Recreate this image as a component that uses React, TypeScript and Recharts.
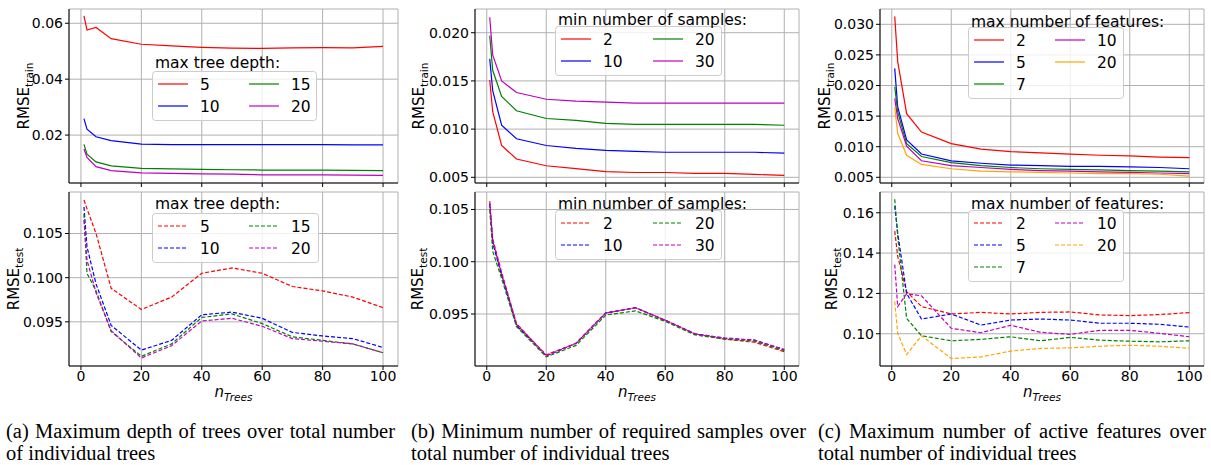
import { LineChart, Line, XAxis, YAxis, CartesianGrid } from 'recharts';

const nTrees = [1, 2, 5, 10, 20, 30, 40, 50, 60, 70, 80, 90, 100];
const xTicks = [0, 20, 40, 60, 80, 100];

// (a) max tree depth
const depthLabels = ['5', '10', '15', '20'];
const depthTrain = [
  [0.0626, 0.0576, 0.0585, 0.0545, 0.0525, 0.0519, 0.0514, 0.0511, 0.051, 0.0512, 0.0513, 0.0512, 0.0517],
  [0.0259, 0.0221, 0.0194, 0.018, 0.0168, 0.0166, 0.0166, 0.0166, 0.0166, 0.0166, 0.0166, 0.0165, 0.0165],
  [0.0167, 0.0132, 0.0104, 0.009, 0.0081, 0.0079, 0.0077, 0.0076, 0.0075, 0.0075, 0.0075, 0.0074, 0.0073],
  [0.015, 0.012, 0.0087, 0.0073, 0.0065, 0.0063, 0.0061, 0.006, 0.0058, 0.0058, 0.0058, 0.0057, 0.0056],
];
const depthTest = [
  [0.1088, 0.1078, 0.105, 0.0988, 0.0964, 0.0978, 0.1005, 0.1011, 0.1005, 0.099, 0.0985, 0.0978, 0.0966],
  [0.108, 0.1035, 0.0993, 0.0946, 0.0918, 0.0929, 0.0958, 0.0961, 0.0954, 0.0938, 0.0934, 0.0931, 0.0921],
  [0.1072, 0.1005, 0.0985, 0.0939, 0.0911, 0.0925, 0.0955, 0.0959, 0.0948, 0.0933, 0.0929, 0.0925, 0.0915],
  [0.1065, 0.102, 0.0983, 0.094, 0.0909, 0.0923, 0.0951, 0.0954, 0.0945, 0.0931, 0.0928, 0.0925, 0.0915],
];

// (b) min number of samples
const sampleLabels = ['2', '10', '20', '30'];
const sampleTrain = [
  [0.0151, 0.0118, 0.0083, 0.0069, 0.0062, 0.0059, 0.0056, 0.0055, 0.0055, 0.0054, 0.0054, 0.0053, 0.0052],
  [0.0173, 0.014, 0.0104, 0.009, 0.0083, 0.008, 0.0078, 0.0077, 0.0076, 0.0076, 0.0076, 0.0076, 0.0075],
  [0.0197, 0.0161, 0.0134, 0.0119, 0.0111, 0.0109, 0.0106, 0.0105, 0.0105, 0.0105, 0.0105, 0.0105, 0.0104],
  [0.0216, 0.0177, 0.015, 0.0138, 0.0131, 0.0129, 0.0128, 0.0127, 0.0127, 0.0127, 0.0127, 0.0127, 0.0127],
];
const sampleTest = [
  [0.1058, 0.102, 0.0988, 0.094, 0.0911, 0.0922, 0.0951, 0.0956, 0.0944, 0.0931, 0.0926, 0.0923, 0.0914],
  [0.1055, 0.1018, 0.0987, 0.0939, 0.091, 0.0922, 0.0951, 0.0956, 0.0944, 0.0931, 0.0927, 0.0925, 0.0916],
  [0.105, 0.101, 0.0984, 0.0938, 0.0909, 0.092, 0.0949, 0.0953, 0.0943, 0.093, 0.0926, 0.0924, 0.0915],
  [0.1056, 0.1022, 0.099, 0.0941, 0.091, 0.0922, 0.0951, 0.0956, 0.0944, 0.0931, 0.0927, 0.0925, 0.0916],
];

// (c) max number of features
const featureLabels = ['2', '5', '7', '10', '20'];
const featureTrain = [
  [0.0313, 0.0239, 0.0154, 0.0124, 0.0105, 0.0096, 0.0092, 0.009, 0.0088, 0.0086, 0.0085, 0.0083, 0.0082],
  [0.0228, 0.0165, 0.0111, 0.0088, 0.0077, 0.0073, 0.007, 0.0069, 0.0068, 0.0068, 0.0067, 0.0066, 0.0064],
  [0.0198, 0.0157, 0.0105, 0.0084, 0.0074, 0.0069, 0.0066, 0.0064, 0.0063, 0.0062, 0.0061, 0.006, 0.0059],
  [0.0179, 0.0146, 0.0101, 0.0077, 0.0069, 0.0066, 0.0063, 0.0061, 0.006, 0.0059, 0.0058, 0.0057, 0.0056],
  [0.0164, 0.0122, 0.0086, 0.0071, 0.0064, 0.006, 0.0059, 0.0058, 0.0057, 0.0056, 0.0056, 0.0055, 0.0052],
];
const featureTest = [
  [0.1509, 0.1384, 0.1209, 0.1135, 0.1098, 0.1106, 0.1098, 0.1106, 0.1108, 0.1093, 0.109, 0.1095, 0.1105],
  [0.1633, 0.15, 0.12, 0.1073, 0.1098, 0.1043, 0.1068, 0.1073, 0.1068, 0.1052, 0.1052, 0.1047, 0.1033],
  [0.1667, 0.1484, 0.1076, 0.099, 0.0965, 0.0972, 0.0985, 0.0965, 0.0982, 0.0968, 0.0963, 0.096, 0.0965],
  [0.1343, 0.1135, 0.1198, 0.1188, 0.1027, 0.1005, 0.1042, 0.1007, 0.0997, 0.1017, 0.1017, 0.1002, 0.0985],
  [0.116, 0.1002, 0.0897, 0.099, 0.0877, 0.0885, 0.0914, 0.0927, 0.093, 0.0938, 0.0943, 0.0938, 0.0928],
];

const colors4 = ['#ff0000', '#0000ff', '#008000', '#bf00bf'];
const colors5 = ['#ff0000', '#0000ff', '#008000', '#bf00bf', '#ffa500'];

const SANS = 'DejaVu Sans, sans-serif';
const SERIF = 'Liberation Serif, Times New Roman, serif';
const X_DOMAIN: [number, number] = [-3.95, 104.95];

type Box = { x0: number; x1: number; y0: number; y1: number };

interface PanelProps {
  left: number;
  top: number;
  width: number;
  height: number;
  plot: Box;
  values: number[][];
  colors: string[];
  domain: [number, number];
  yTicks: number[];
  digits: number;
  dashed: boolean;
  showX: boolean;
}

const Panel = ({ left, top, width, height, plot, values, colors, domain, yTicks, digits, dashed, showX }: PanelProps) => {
  const rows = nTrees.map((n, i) => {
    const row: Record<string, number> = { n };
    values.forEach((s, k) => {
      row['s' + k] = s[i];
    });
    return row;
  });
  const tickStyle = { fill: '#000', fontSize: 14, fontFamily: SANS };
  return (
    <div style={{ position: 'absolute', left, top }}>
      <LineChart
        width={width}
        height={height}
        data={rows}
        margin={{ top: plot.y0 - top, right: left + width - plot.x1, left: 0, bottom: 0 }}
      >
        <CartesianGrid stroke="#b0b0b0" strokeWidth={1} />
        <XAxis
          dataKey="n"
          type="number"
          domain={X_DOMAIN}
          ticks={xTicks}
          allowDataOverflow
          height={top + height - plot.y1}
          tickSize={4}
          tickMargin={1}
          tick={tickStyle}
          tickFormatter={(v: number) => (showX ? String(v) : '')}
          stroke="#000"
          axisLine={{ stroke: '#000', strokeWidth: 1 }}
          tickLine={{ stroke: '#000' }}
        />
        <XAxis xAxisId="top" orientation="top" type="number" domain={X_DOMAIN} height={0} tick={false} tickLine={false} axisLine={{ stroke: '#000', strokeWidth: 1 }} />
        <YAxis
          type="number"
          domain={domain}
          ticks={yTicks}
          allowDataOverflow
          width={plot.x0 - left}
          tickSize={4}
          tickMargin={2}
          tick={tickStyle}
          tickFormatter={(v: number) => v.toFixed(digits)}
          axisLine={{ stroke: '#000', strokeWidth: 1 }}
          tickLine={{ stroke: '#000' }}
        />
        <YAxis yAxisId="right" orientation="right" type="number" domain={domain} width={0} tick={false} tickLine={false} axisLine={{ stroke: '#000', strokeWidth: 1 }} />
        {values.map((_, k) => (
          <Line
            key={k}
            type="linear"
            dataKey={'s' + k}
            stroke={colors[k]}
            strokeWidth={1.2}
            strokeDasharray={dashed ? '4 2' : undefined}
            dot={false}
            activeDot={false}
            isAnimationActive={false}
          />
        ))}
      </LineChart>
    </div>
  );
};

type LegendSpec = { x: number; y: number; w: number; rows: number; col2: number; titleY: number; title: string };

const LegendBox = ({ spec, labels, colors, dashed }: { spec: LegendSpec; labels: string[]; colors: string[]; dashed: boolean }) => {
  const h = spec.rows * 22 + 5;
  return (
    <g fontFamily={SANS} fontSize={15.5} fill="#000">
      <rect x={spec.x + 0.5} y={spec.y + 0.5} width={spec.w} height={h} rx={3} fill="rgba(255,255,255,0.8)" stroke="#cccccc" />
      <text x={spec.x + 3} y={spec.titleY + 5.5}>{spec.title}</text>
      {labels.map((lab, i) => {
        const col = Math.floor(i / spec.rows);
        const row = i % spec.rows;
        const lx = spec.x + (col ? spec.col2 : 6);
        const cy = spec.y + 13 + row * 22;
        return (
          <g key={lab}>
            <line x1={lx} x2={lx + 30} y1={cy} y2={cy} stroke={colors[i]} strokeWidth={1.2} strokeDasharray={dashed ? '4 2' : undefined} />
            <text x={lx + 42} y={cy + 5.5}>{lab}</text>
          </g>
        );
      })}
    </g>
  );
};

const YLabel = ({ x, cy, sub }: { x: number; cy: number; sub: string }) => (
  <text x={x} y={cy} transform={`rotate(-90 ${x} ${cy})`} textAnchor="middle" fontFamily={SANS} fontSize={15} fill="#000">
    RMSE<tspan dy={4} fontSize={10.5}>{sub}</tspan>
  </text>
);

const XLabel = ({ cx }: { cx: number }) => (
  <text x={cx} y={397} textAnchor="middle" fontFamily={SANS} fontStyle="italic" fontSize={15} fill="#000">
    n<tspan dy={4} fontSize={10.5}>Trees</tspan>
  </text>
);

const Caption = ({ x, w, first, second }: { x: number; w: number; first: string; second: string }) => (
  <div style={{ position: 'absolute', left: x, top: 420, width: w, fontFamily: SERIF, fontSize: 20.5, lineHeight: '22px', color: '#000' }}>
    <div style={{ textAlign: 'justify', textAlignLast: 'justify' }}>{first}</div>
    <div>{second}</div>
  </div>
);

const topBox = (x0: number, x1: number): Box => ({ x0, x1, y0: 9, y1: 183 });
const botBox = (x0: number, x1: number): Box => ({ x0, x1, y0: 192, y1: 366 });

export default function App() {
  return (
    <div style={{ position: 'absolute', left: 0, top: 0, width: 1211, height: 465, background: '#fff', overflow: 'hidden' }}>
      <Panel left={0} top={0} width={405} height={190} plot={topBox(69, 398)} values={depthTrain} colors={colors4} domain={[0.00286, 0.0651]} yTicks={[0.02, 0.04, 0.06]} digits={2} dashed={false} showX={false} />
      <Panel left={0} top={190} width={405} height={220} plot={botBox(69, 398)} values={depthTest} colors={colors4} domain={[0.09, 0.1097]} yTicks={[0.095, 0.1, 0.105]} digits={3} dashed showX />
      <Panel left={405} top={0} width={405} height={190} plot={topBox(475, 799)} values={sampleTrain} colors={colors4} domain={[0.00441, 0.02246]} yTicks={[0.005, 0.01, 0.015, 0.02]} digits={3} dashed={false} showX={false} />
      <Panel left={405} top={190} width={405} height={220} plot={botBox(475, 799)} values={sampleTest} colors={colors4} domain={[0.09003, 0.10667]} yTicks={[0.095, 0.1, 0.105]} digits={3} dashed showX />
      <Panel left={810} top={0} width={401} height={190} plot={topBox(880, 1204)} values={featureTrain} colors={colors5} domain={[0.00407, 0.0325]} yTicks={[0.005, 0.01, 0.015, 0.02, 0.025, 0.03]} digits={3} dashed={false} showX={false} />
      <Panel left={810} top={190} width={401} height={220} plot={botBox(880, 1204)} values={featureTest} colors={colors5} domain={[0.084, 0.1703]} yTicks={[0.1, 0.12, 0.14, 0.16]} digits={2} dashed showX />

      <svg width={1211} height={465} style={{ position: 'absolute', left: 0, top: 0, pointerEvents: 'none' }}>
        <YLabel x={29} cy={96} sub="train" />
        <YLabel x={19} cy={279} sub="test" />
        <YLabel x={424} cy={96} sub="train" />
        <YLabel x={423} cy={279} sub="test" />
        <YLabel x={830} cy={96} sub="train" />
        <YLabel x={837} cy={279} sub="test" />
        <XLabel cx={233.5} />
        <XLabel cx={637} />
        <XLabel cx={1042} />
        <LegendBox spec={{ x: 152, y: 71, w: 164, rows: 2, col2: 97, titleY: 62, title: 'max tree depth:' }} labels={depthLabels} colors={colors4} dashed={false} />
        <LegendBox spec={{ x: 152, y: 213, w: 166, rows: 2, col2: 97, titleY: 203, title: 'max tree depth:' }} labels={depthLabels} colors={colors4} dashed />
        <LegendBox spec={{ x: 555, y: 26, w: 166, rows: 2, col2: 98, titleY: 19, title: 'min number of samples:' }} labels={sampleLabels} colors={colors4} dashed={false} />
        <LegendBox spec={{ x: 555, y: 210, w: 166, rows: 2, col2: 98, titleY: 203, title: 'min number of samples:' }} labels={sampleLabels} colors={colors4} dashed />
        <LegendBox spec={{ x: 968, y: 27, w: 155, rows: 3, col2: 87, titleY: 21, title: 'max number of features:' }} labels={featureLabels} colors={colors5} dashed={false} />
        <LegendBox spec={{ x: 968, y: 210, w: 155, rows: 3, col2: 87, titleY: 203, title: 'max number of features:' }} labels={featureLabels} colors={colors5} dashed />
      </svg>

      <Caption x={6} w={389} first="(a) Maximum depth of trees over total number" second="of individual trees" />
      <Caption x={411} w={395} first="(b) Minimum number of required samples over" second="total number of individual trees" />
      <Caption x={818} w={388} first="(c) Maximum number of active features over" second="total number of individual trees" />
    </div>
  );
}
